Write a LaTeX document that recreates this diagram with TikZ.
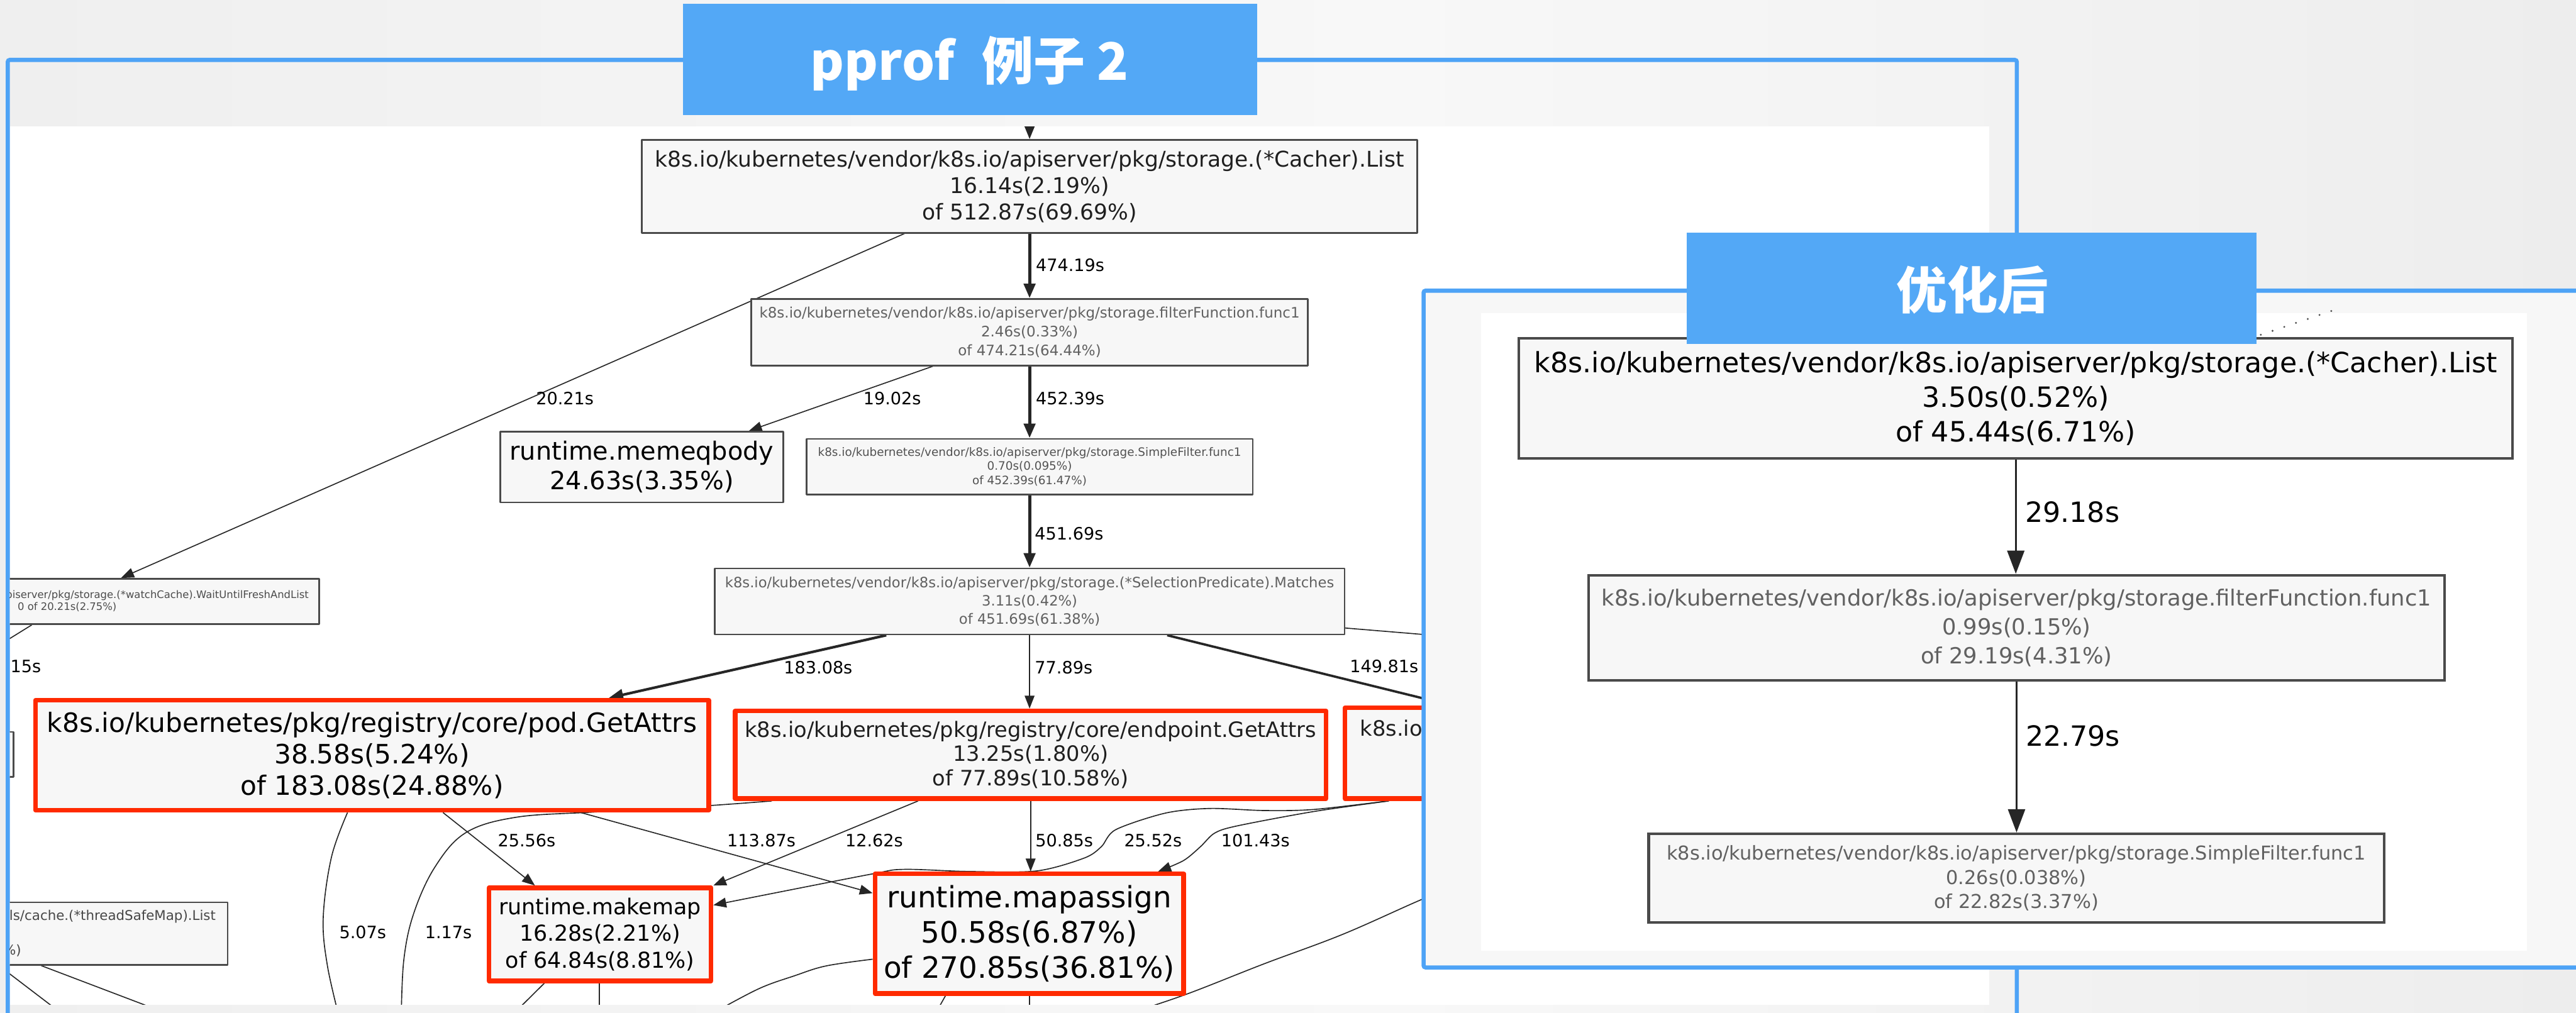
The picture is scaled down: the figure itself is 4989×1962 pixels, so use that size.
\documentclass[tikz,border=0pt]{standalone}
\usepackage{fontspec}
\setmainfont{DejaVu Sans}
\newfontfamily\cjkfont{Noto Sans CJK SC}
\usetikzlibrary{arrows.meta,calc}

\definecolor{bluebar}{HTML}{53A8F6}
\definecolor{blueline}{HTML}{4EA3F6}
\definecolor{hotred}{HTML}{FF2A00}
\definecolor{boxfill}{HTML}{F7F7F7}
\definecolor{boxline}{HTML}{4A4A4A}
\definecolor{bgA}{HTML}{EFEFEF}
\definecolor{bgB}{HTML}{F8F8F8}
\definecolor{bgC}{HTML}{EDEDED}
\definecolor{panelfill}{HTML}{F7F7F7}

\pgfdeclarehorizontalshading{pagebg}{100bp}{color(0bp)=(bgA); color(25bp)=(bgA); color(52bp)=(bgB); color(75bp)=(bgC); color(100bp)=(bgC)}

\pgfdeclarelayer{bglayer}
\pgfdeclarelayer{edgelayer}
\pgfdeclarelayer{toplayer}
\pgfsetlayers{bglayer,edgelayer,main,toplayer}

\newcommand\fsz[2]{\fontsize{#1}{#2}\selectfont}

\begin{document}
\begin{tikzpicture}[x=1pt,y=-1pt,line join=round,
  pbox/.style={rectangle, draw=boxline, line width=3pt, fill=boxfill, inner sep=0pt, align=center},
  hot/.style={draw=hotred, line width=9pt},
  rbox/.style={pbox, line width=5pt},
  edge/.style={draw=black!85, line width=2pt},
  tipS/.style={-{Triangle[length=25pt,width=19pt]}},
  tipL/.style={-{Triangle[length=28pt,width=22pt]}},
  tipR/.style={-{Triangle[length=45pt,width=33pt]}},
  elabel/.style={anchor=west, inner sep=0pt, font=\fsz{33}{40}},
  rlabel/.style={anchor=west, inner sep=0pt, font=\fsz{54}{60}},
  titlebox/.style={rectangle, fill=bluebar, inner sep=0pt},
  titletext/.style={text=white, inner sep=0pt, font=\cjkfont\bfseries\fsz{100}{110}},
  frame/.style={draw=blueline, line width=8pt, rounded corners=4pt},
]
\useasboundingbox (0,0) rectangle (4989,1962);

% page background, white canvas of the call graph, outer frame
\begin{pgfonlayer}{bglayer}
  \shade[shading=pagebg] (0,0) rectangle (4989,1962);
  \fill[white] (19,245) rectangle (3853,1946);
  \draw[frame] (15,2000) -- (15,116) -- (3906,116) -- (3906,2000);
\end{pgfonlayer}

% ---------- call graph: nodes ----------
\begin{scope}
\clip (19,245) rectangle (3853,1946);
\node[pbox, minimum width=1502pt, minimum height=180pt, text=black!88, font=\fsz{42}{51}] (cacher) at (1994,361)
  {k8s.io/kubernetes/vendor/k8s.io/apiserver/pkg/storage.(*Cacher).List\\16.14s(2.19\%)\\of 512.87s(69.69\%)};
\node[pbox, minimum width=1078pt, minimum height=129pt, text=black!62, font=\fsz{28}{36}] (filter) at (1994,643.5)
  {k8s.io/kubernetes/vendor/k8s.io/apiserver/pkg/storage.filterFunction.func1\\2.46s(0.33\%)\\of 474.21s(64.44\%)};
\node[pbox, minimum width=548pt, minimum height=137pt, text=black, font=\fsz{48.5}{57}] (memeq) at (1243,904.5)
  {runtime.memeqbody\\24.63s(3.35\%)};
\node[pbox, minimum width=864pt, minimum height=108pt, text=black!68, font=\fsz{22.4}{27.5}] (simple) at (1994,904)
  {k8s.io/kubernetes/vendor/k8s.io/apiserver/pkg/storage.SimpleFilter.func1\\0.70s(0.095\%)\\of 452.39s(61.47\%)};
\node[pbox, minimum width=978pt, minimum height=88pt] (wait) at (129,1165) {};
\node[anchor=north east, inner sep=0pt, align=left, text=black!70, font=\fsz{20}{23}] (waittext) at (598,1144)
  {apiserver/pkg/storage.(*watchCache).WaitUntilFreshAndList\\\hspace*{35pt}0 of 20.21s(2.75\%)};
\node[pbox, minimum width=1220pt, minimum height=128pt, text=black!62, font=\fsz{27.6}{35.5}] (matches) at (1994,1165)
  {k8s.io/kubernetes/vendor/k8s.io/apiserver/pkg/storage.(*SelectionPredicate).Matches\\3.11s(0.42\%)\\of 451.69s(61.38\%)};
\node[pbox, minimum width=252pt, minimum height=87pt] (lbox) at (-100,1461.5) {};
\node[pbox, hot, minimum width=1304pt, minimum height=213pt, text=black, font=\fsz{51.5}{61}] (pod) at (720.5,1463)
  {k8s.io/kubernetes/pkg/registry/core/pod.GetAttrs\\38.58s(5.24\%)\\of 183.08s(24.88\%)};
\node[pbox, hot, minimum width=1144pt, minimum height=170pt, text=black!88, font=\fsz{41}{47}] (endpoint) at (1996,1462)
  {k8s.io/kubernetes/pkg/registry/core/endpoint.GetAttrs\\13.25s(1.80\%)\\of 77.89s(10.58\%)};
\node[pbox, hot, minimum width=800pt, minimum height=176pt] (third) at (3005,1459) {};
\node[anchor=west, inner sep=0pt, text=black!88, font=\fsz{41}{47}] (thirdtext) at (2634,1410) {k8s.io};
\node[pbox, hot, minimum width=430pt, minimum height=180.5pt, text=black, font=\fsz{42.4}{52}] (makemap) at (1162,1810)
  {runtime.makemap\\16.28s(2.21\%)\\of 64.84s(8.81\%)};
\node[pbox, hot, minimum width=598pt, minimum height=232pt, text=black, font=\fsz{57}{68.5}] (mapassign) at (1993.5,1808.5)
  {runtime.mapassign\\50.58s(6.87\%)\\of 270.85s(36.81\%)};
\node[pbox, minimum width=741pt, minimum height=121pt] (tsm) at (70.5,1808.5) {};
\node[anchor=north west, inner sep=0pt, align=left, text=black!72, font=\fsz{26}{34}] (tsmtext) at (18,1762)
  {ls/cache.(*threadSafeMap).List\\[34pt]\hspace*{-12pt}\%)};

% edge labels
\node[elabel] (l1) at (2006,514) {474.19s};
\node[elabel] (l2) at (1038,772) {20.21s};
\node[elabel] (l3) at (1672,772) {19.02s};
\node[elabel] (l4) at (2006,772) {452.39s};
\node[elabel] (l5) at (2004,1034) {451.69s};
\node[elabel] (l6) at (1518,1293) {183.08s};
\node[elabel] (l7) at (2004,1293) {77.89s};
\node[elabel] (l8) at (2614,1291) {149.81s};
\node[elabel] (l9) at (20,1291) {15s};
\node[elabel] (l10) at (964,1628) {25.56s};
\node[elabel] (l11) at (1408,1628) {113.87s};
\node[elabel] (l12) at (1637,1628) {12.62s};
\node[elabel] (l13) at (2005,1628) {50.85s};
\node[elabel] (l14) at (2177,1628) {25.52s};
\node[elabel] (l15) at (2365,1628) {101.43s};
\node[elabel] (l16) at (657,1806) {5.07s};
\node[elabel] (l17) at (823,1806) {1.17s};
\end{scope}

% ---------- call graph: edges ----------
\begin{pgfonlayer}{edgelayer}
\begin{scope}
\clip (19,245) rectangle (3853,1946);
\coordinate (cin) at (1994,230);
\coordinate (mr) at (2950,1245);
\coordinate (wl) at (-20,1261);
\draw[edge, line width=4pt, tipS] (cin) -- (cacher.north);
\draw[edge, line width=6pt, tipL] (cacher.south) -- (filter.north);
\draw[edge, tipS] ($(cacher.south west)+(510,0)$) -- ($(wait.north west)+(596,0)$);
\draw[edge, tipS] ($(filter.south west)+(353,0)$) -- ($(memeq.north west)+(483,0)$);
\draw[edge, line width=6pt, tipL] (filter.south) -- (simple.north);
\draw[edge, line width=6pt, tipL] (simple.south) -- (matches.north);
\draw[edge, line width=5pt, tipL] ($(matches.south west)+(334,0)$) -- ($(pod.north west)+(1115,0)$);
\draw[edge, tipS] (matches.south) -- (matches.south |- endpoint.north);
\draw[edge, line width=4.5pt, tipL] ($(matches.south west)+(878,0)$) -- ($(third.north west)+(211.5,0)$);
\draw[edge] ($(matches.south east)+(0,-14)$) -- (mr);
\draw[edge] ($(wait.south west)+(423,0)$) -- (wl);
\draw[edge, tipS] ($(pod.south west)+(794,0)$) -- ($(makemap.north west)+(93.5,0)$);
\draw[edge, tipS] ($(pod.south west)+(1061,0)$) -- ($(mapassign.north west)+(0,42)$);
\draw[edge, tipS] ($(endpoint.south west)+(358.5,0)$) -- (makemap.north east);
\draw[edge, tipS] (endpoint.south) -- (endpoint.south |- mapassign.north);
% curved routes
\coordinate (c16s) at ($(third.south west)+(87.5,0)$);
\coordinate (c16e) at ($(makemap.north east)+(0,38)$);
\draw[edge, tipS] plot[smooth, tension=0.5] coordinates {(c16s) (2544,1568) (2448,1570) (2343,1566) (2257,1575) (2161,1607) (2133,1640) (2100,1662) (2008,1687) (1874,1688) (1750,1684) (1683,1694) (c16e)};
\coordinate (c17s) at ($(third.south west)+(89.5,0)$);
\coordinate (c17e) at ($(mapassign.north east)+(-54,0)$);
\draw[edge, tipS] plot[smooth, tension=0.5] coordinates {(c17s) (2544,1572) (2395,1600) (2352,1614) (2325,1640) (2292,1667) (c17e)};
\coordinate (c18s) at ($(pod.south west)+(609,0)$);
\coordinate (c18e) at (658,1975);
\draw[edge] plot[smooth, tension=0.6] coordinates {(c18s) (642,1660) (626,1777) (634,1870) (c18e)};
\coordinate (c19s) at ($(endpoint.south west)+(75.5,0)$);
\coordinate (c19e) at (777,1975);
\draw[edge] plot[smooth, tension=0.6] coordinates {(c19s) (1350,1562) (1150,1573) (1000,1583) (902,1613) (842,1680) (801,1770) (782,1860) (c19e)};
\coordinate (c20a) at (983,1975);
\coordinate (c20b) at (1161,1975);
\draw[edge] ($(makemap.south west)+(111.5,0)$) -- (c20a);
\draw[edge] ($(makemap.south west)+(218.5,0)$) -- (c20b);
\coordinate (c21s) at ($(mapassign.west)+(0,49.5)$);
\coordinate (c21e) at (1385,1960);
\draw[edge] plot[smooth, tension=0.6] coordinates {(c21s) (1600,1871) (1539,1890) (1470,1915) (c21e)};
\coordinate (c22a) at (1805,1975);
\draw[edge] ($(mapassign.south west)+(141,0)$) -- (c22a);
\draw[edge] (mapassign.south) -- ++(0,50);
\coordinate (c23e) at (2190,1962);
\draw[edge] plot[smooth, tension=0.6] coordinates {(third.south) (2880,1690) (2754,1742) (2600,1810) (2448,1867) (2300,1925) (c23e)};
\coordinate (c24a) at (355,1975);
\coordinate (c24b) at (135,1975);
\draw[edge] ($(tsm.south west)+(381.5,0)$) -- (c24a);
\draw[edge] ($(tsm.south west)+(299.5,0)$) -- (c24b);
\end{scope}
\end{pgfonlayer}

% ---------- titles and the optimised graph ----------
\begin{pgfonlayer}{toplayer}
  \node[titlebox, minimum width=1112pt, minimum height=216pt] (ttl) at (1878.5,115.5) {};
  \node[titletext] (ttltext) at (1878,123) {pprof \hspace{0.3em}例子 2};

  \fill[panelfill] (2757,563) rectangle (5000,1874);
  \fill[white] (2868,606) rectangle (4894,1842);
  \draw[frame] (5000,563) -- (2757,563) -- (2757,1874) -- (5000,1874);

  \node[rbox, minimum width=1924pt, minimum height=233pt, text=black, font=\fsz{54}{67}] (r1) at (3904,771.5)
    {k8s.io/kubernetes/vendor/k8s.io/apiserver/pkg/storage.(*Cacher).List\\3.50s(0.52\%)\\of 45.44s(6.71\%)};
  \node[rbox, minimum width=1657pt, minimum height=204pt, text=black!62, font=\fsz{43}{55.5}] (r2) at (3905.5,1216)
    {k8s.io/kubernetes/vendor/k8s.io/apiserver/pkg/storage.filterFunction.func1\\0.99s(0.15\%)\\of 29.19s(4.31\%)};
  \node[rbox, minimum width=1424pt, minimum height=172pt, text=black!62, font=\fsz{37}{46.5}] (r3) at (3905,1701)
    {k8s.io/kubernetes/vendor/k8s.io/apiserver/pkg/storage.SimpleFilter.func1\\0.26s(0.038\%)\\of 22.82s(3.37\%)};
  \draw[edge, line width=4pt, tipR] (r1.south) -- (r1.south |- r2.north);
  \draw[edge, line width=3.5pt, tipR] (r2.south) -- (r2.south |- r3.north);
  \node[rlabel] (rl1) at (3922,992) {29.18s};
  \node[rlabel] (rl2) at (3923,1426) {22.79s};
  \coordinate (rdot) at (4522,600);
  \draw[black!70, line width=4pt, line cap=round, dash pattern=on 0pt off 24pt] ($(r1.north east)+(-490,-4)$) -- (rdot);

  \node[titlebox, minimum width=1103pt, minimum height=215pt] (ttr) at (3818.5,558.5) {};
  \node[titletext, font=\cjkfont\bfseries\fsz{98}{108}] (ttrtext) at (3820,561.5) {优化后};
\end{pgfonlayer}
\end{tikzpicture}
\end{document}
